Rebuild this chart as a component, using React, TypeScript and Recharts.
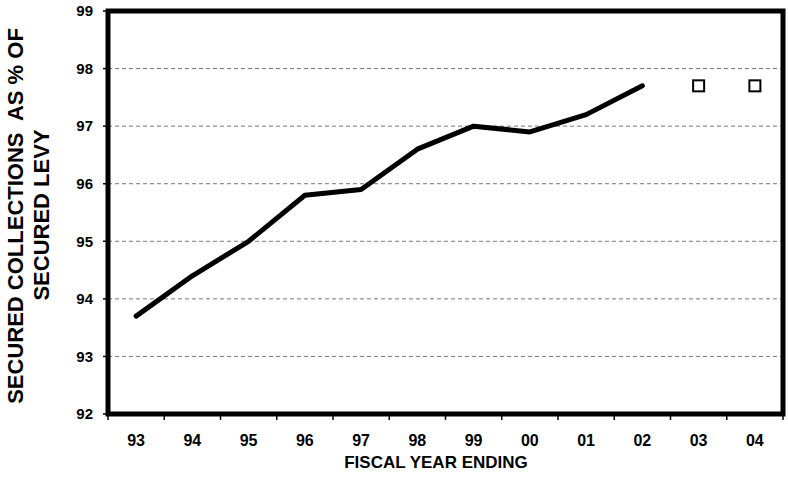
import React from 'react';
import { LineChart, Line, XAxis, YAxis, CartesianGrid, ReferenceArea, Label } from 'recharts';

const years = ['93', '94', '95', '96', '97', '98', '99', '00', '01', '02', '03', '04'];
const actual: (number | null)[] = [93.7, 94.4, 95.0, 95.8, 95.9, 96.6, 97.0, 96.9, 97.2, 97.7, null, null];
const projected: (number | null)[] = [null, null, null, null, null, null, null, null, null, null, 97.7, 97.7];
const yTicks = [92, 93, 94, 95, 96, 97, 98, 99];

const data = years.map((y, i) => ({ x: i + 0.5, label: y, actual: actual[i], projected: projected[i] }));
const xTicks: number[] = [];
for (let i = 0; i <= years.length * 2; i++) xTicks.push(i / 2);

const FONT = '"Liberation Sans", Arial, sans-serif';

const XTick = (props: any) => {
  const { x, y, payload } = props;
  const v = payload.value as number;
  if (Number.isInteger(v)) {
    return <line x1={x} x2={x} y1={y} y2={y + 6} stroke="#000" strokeWidth={1.5} />;
  }
  return (
    <text x={x} y={y + 32} textAnchor="middle" fontFamily={FONT} fontWeight="bold" fontSize={16} fill="#000">
      {years[Math.floor(v)]}
    </text>
  );
};

const SquareDot = (props: any) => {
  const { cx, cy, index } = props;
  if (cy == null || cx == null || Number.isNaN(cy)) return <g key={`sq-${index}`} />;
  return <rect key={`sq-${index}`} x={cx - 5.5} y={cy - 5.5} width={11} height={11} fill="#fff" stroke="#000" strokeWidth={2} />;
};

const YLabel = () => (
  <g>
    <text transform="translate(23,216) rotate(-90)" textAnchor="middle" fontFamily={FONT} fontWeight="bold" fontSize={22} fill="#000" style={{ whiteSpace: 'pre' }}>
      {'SECURED COLLECTIONS\u00a0 AS % OF'}
    </text>
    <text transform="translate(49,215) rotate(-90)" textAnchor="middle" fontFamily={FONT} fontWeight="bold" fontSize={22} fill="#000">
      SECURED LEVY
    </text>
  </g>
);

const XLabel = () => (
  <text x={436} y={468} textAnchor="middle" fontFamily={FONT} fontWeight="bold" fontSize={17} fill="#000">
    FISCAL YEAR ENDING
  </text>
);

export default function App() {
  return (
    <div style={{ position: 'absolute', left: 0, top: 0, background: '#fff' }}>
      <LineChart width={788} height={479} data={data} margin={{ top: 11, right: 5, bottom: 0, left: 0 }}>
        <CartesianGrid vertical={false} horizontal strokeDasharray="4 3" stroke="#777" />
        <XAxis
          dataKey="x"
          type="number"
          domain={[0, 12]}
          ticks={xTicks}
          interval={0}
          tick={<XTick />}
          tickLine={false}
          axisLine={false}
          tickSize={0}
          tickMargin={0}
          height={65}
        >
          <Label content={<XLabel />} />
        </XAxis>
        <YAxis
          type="number"
          domain={[92, 99]}
          ticks={yTicks}
          interval={0}
          width={108}
          axisLine={false}
          tickLine={{ stroke: '#000', strokeWidth: 1.5 }}
          tickSize={5}
          tickMargin={10}
          tick={{ fontFamily: FONT, fontWeight: 'bold', fontSize: 15, fill: '#000' }}
        >
          <Label content={<YLabel />} />
        </YAxis>
        <ReferenceArea x1={0} x2={12} y1={92} y2={99} fill="none" stroke="#000" strokeWidth={5} ifOverflow="visible" />
        <Line
          dataKey="actual"
          stroke="#000"
          strokeWidth={5}
          dot={false}
          activeDot={false}
          strokeLinejoin="round"
          strokeLinecap="round"
          isAnimationActive={false}
        />
        <Line
          dataKey="projected"
          stroke="none"
          dot={<SquareDot />}
          activeDot={false}
          isAnimationActive={false}
        />
      </LineChart>
    </div>
  );
}
